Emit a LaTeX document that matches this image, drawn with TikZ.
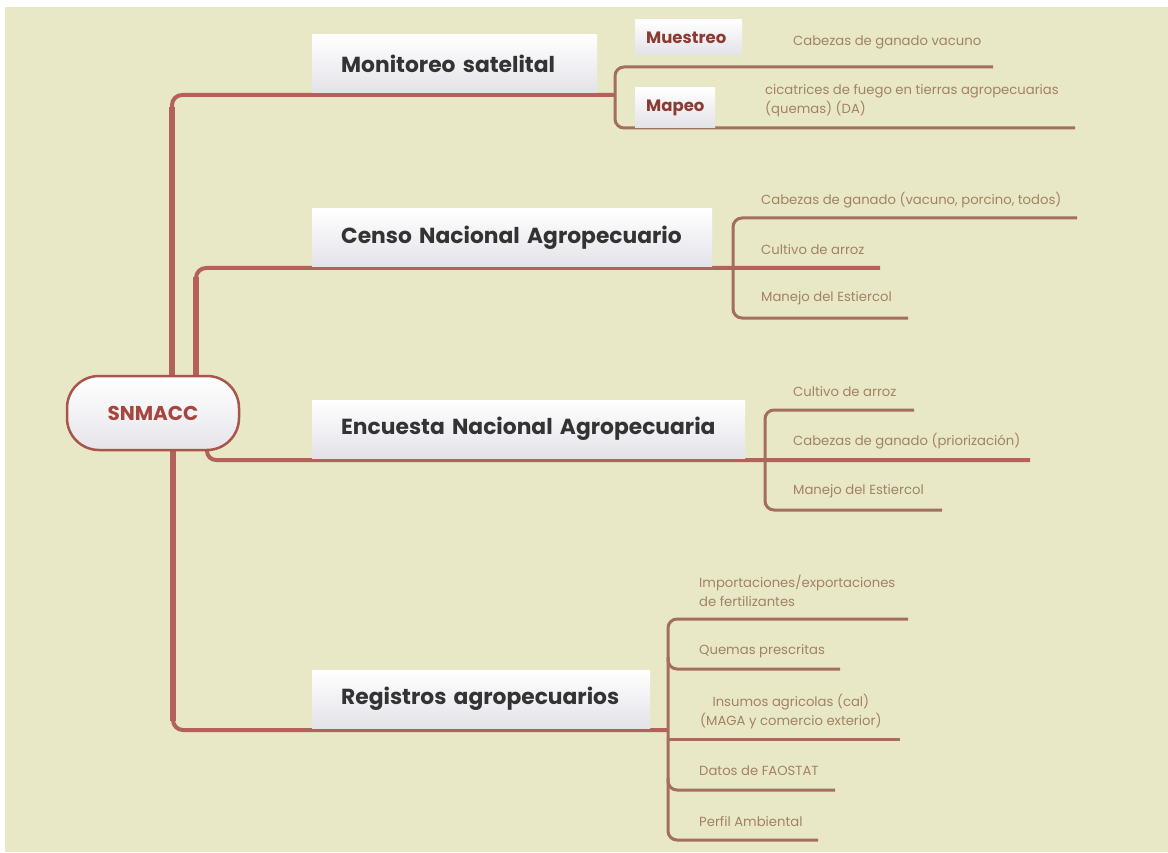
\documentclass[tikz,border=0pt]{standalone}
\usepackage{fontspec}
\setmainfont{Poppins}
\usetikzlibrary{calc}
\definecolor{paper}{HTML}{E8E8C6}
\definecolor{trunkc}{HTML}{B3615A}
\definecolor{subc}{HTML}{A36E5E}
\definecolor{titlec}{HTML}{333333}
\definecolor{tagc}{HTML}{8C3B33}
\definecolor{leafc}{HTML}{A38264}
\definecolor{boxbot}{HTML}{E3E2E8}
\definecolor{rootbot}{HTML}{E6E4EA}
\definecolor{rootedge}{HTML}{A8554C}
\definecolor{roottext}{HTML}{A5473E}
\pgfdeclarelayer{paperlayer}
\pgfdeclarelayer{linelayer}
\pgfsetlayers{paperlayer,linelayer,main}
\begin{document}
\begin{tikzpicture}[x=1pt,y=-1pt,
  trunk/.style={line width=6.5pt, draw=trunkc},
  branch/.style={line width=4pt, draw=trunkc, rounded corners=10pt},
  sub/.style={line width=3pt, draw=subc, rounded corners=9pt},
  titlebox/.style={anchor=west, top color=white, bottom color=boxbot, text=titlec,
    font=\bfseries\fontsize{21.8}{26}\selectfont, minimum height=58pt, inner xsep=29pt, inner ysep=0pt, align=left},
  tagbox/.style={anchor=west, top color=white, bottom color=boxbot, text=tagc,
    font=\bfseries\fontsize{16.5}{19}\selectfont, inner xsep=11pt, inner ysep=0pt, align=left},
  leaf/.style={anchor=west, text=leafc, font=\fontsize{13.2}{19.5}\selectfont, inner sep=0pt, align=left},
]
\useasboundingbox (0,0) rectangle (1168,853);
\begin{pgfonlayer}{paperlayer}
  \fill[white] (0,0) rectangle (1168,853);
  \fill[paper] (5,7) rectangle (1168,852);
\end{pgfonlayer}

% central node
\node[draw=rootedge, line width=2.5pt, rounded corners=32pt, top color=white, bottom color=rootbot,
  minimum width=172pt, minimum height=74pt, text=roottext, font=\bfseries\fontsize{20}{24}\selectfont]
  (root) at (153,413) {SNMACC};

% first-level topics
\node[titlebox, text width=227pt] (mon) at (312,64) {\mbox{Monitoreo satelital}};
\node[titlebox, text width=342pt] (cen) at (312,238) {\mbox{Censo Nacional Agropecuario}};
\node[titlebox, text width=375pt] (enc) at (312,429) {\mbox{Encuesta Nacional Agropecuaria}};
\node[titlebox, text width=280pt] (reg) at (312,699) {\mbox{Registros agropecuarios}};

% sampling / mapping tags
\node[tagbox, text width=85pt, minimum height=35pt] (mue) at (635,37.5) {Muestreo};
\node[tagbox, text width=58pt, minimum height=40pt] (map) at (635,108) {Mapeo};

% leaves
\node[leaf] (m1) at (793,42) {Cabezas de ganado vacuno};
\node[leaf] (m2) at (765,100.5) {cicatrices de fuego en tierras agropecuarias\\(quemas) (DA)};
\node[leaf] (c1) at (761,200) {Cabezas de ganado (vacuno, porcino, todos)};
\node[leaf] (c2) at (761,250) {Cultivo de arroz};
\node[leaf] (c3) at (761,298) {Manejo del Estiercol};
\node[leaf] (e1) at (793,392) {Cultivo de arroz};
\node[leaf] (e2) at (793,441) {Cabezas de ganado (priorización)};
\node[leaf] (e3) at (793,491) {Manejo del Estiercol};
\node[leaf] (r1t) at (699,591) {Importaciones/exportaciones\\de fertilizantes};
\node[leaf] (r2t) at (699,651) {Quemas prescritas};
\node[leaf, align=center] (r3t) at (700,711.5) {Insumos agricolas (cal)\\(MAGA y comercio exterior)};
\node[leaf] (r4t) at (699,771) {Datos de FAOSTAT};
\node[leaf] (r5t) at (699,822) {Perfil Ambiental};

% junctions and line ends
\coordinate (mJ) at (615,95);
\coordinate (mA) at (993,67);
\coordinate (mB) at (1075,128);
\coordinate (cJ) at (733,268);
\coordinate (cEnd) at (880,268);
\coordinate (cA) at (1077,218);
\coordinate (cB) at (908,318);
\coordinate (eJ) at (765,460);
\coordinate (eEnd) at (1030,460);
\coordinate (eA) at (914,410);
\coordinate (eB) at (942,510);
\coordinate (rJ) at (668,730);
\coordinate (r1) at (908,619);
\coordinate (r2) at (840,669);
\coordinate (r3) at (900,739);
\coordinate (r4) at (835,790);
\coordinate (r5) at (818,840);

\begin{pgfonlayer}{linelayer}
  % trunks from the central node
  \draw[branch] ([xshift=19pt]root.north) |- (mJ);
  \draw[trunk] ([xshift=19pt]root.north) -- ($([xshift=19pt]root.north)+(0,-268)$);
  \draw[branch] ([xshift=43pt]root.north) |- (cEnd);
  \draw[trunk] ([xshift=43pt]root.north) -- ($([xshift=43pt]root.north)+(0,-98)$);
  \draw[branch, rounded corners=9pt] ([xshift=54pt,yshift=4pt]root.south) |- (eEnd);
  \draw[branch] ([xshift=20pt]root.south) |- (rJ);
  \draw[trunk] ([xshift=20pt]root.south) -- ($([xshift=20pt]root.south)+(0,270)$);

  % brackets to the leaves
  \draw[sub] (mA) -| (mJ) |- (mB);
  \draw[sub] (cA) -| (cJ) |- (cB);
  \draw[sub] (eA) -| (eJ) |- (eB);
  \draw[sub] (r1) -| (rJ) |- (r5);
  \draw[sub] ($(r2 -| rJ)+(0,-12)$) |- (r2);
  \draw[sub] (r3 -| rJ) -- (r3);
  \draw[sub] ($(r4 -| rJ)+(0,-12)$) |- (r4);
\end{pgfonlayer}
\end{tikzpicture}
\end{document}
